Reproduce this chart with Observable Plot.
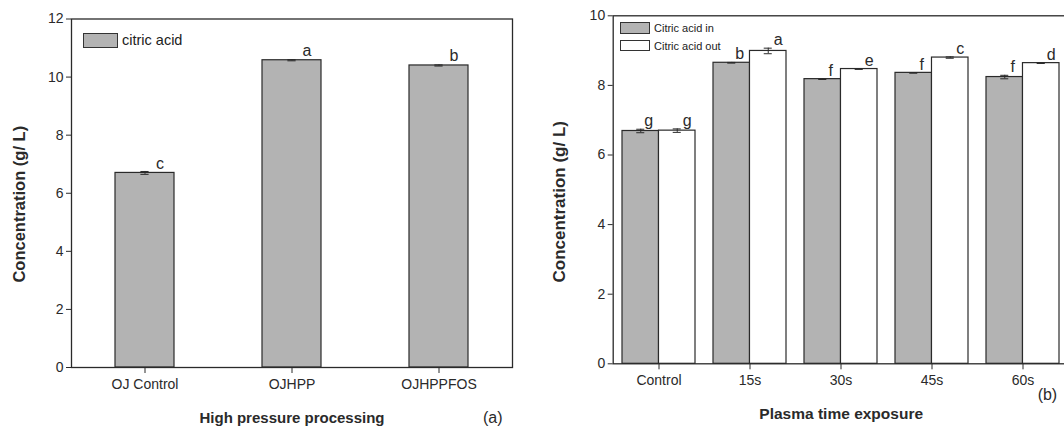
<!DOCTYPE html>
<html><head><meta charset="utf-8">
<script src="https://cdn.jsdelivr.net/npm/d3@7"></script>
<script src="https://cdn.jsdelivr.net/npm/@observablehq/plot@0.6"></script>
<style>
html,body{margin:0;padding:0;background:#fff;overflow:hidden;width:1064px;height:427px;}
#wrap{position:relative;width:1064px;height:427px;font-family:"Liberation Sans",Arial,sans-serif;}
.panel{position:absolute;top:0;}
.leg{position:absolute;display:flex;align-items:center;color:#222;}
.sw{border:1.3px solid #333;box-sizing:border-box;}
</style></head>
<body><div id="wrap"></div>
<script>
// Panel (a)
const catsA = ["OJ Control", "OJHPP", "OJHPPFOS"];
const valsA = [6.70, 10.58, 10.40];
const errA = [0.05, 0.02, 0.02];
const letA = ["c", "a", "b"];
const ticksA = [0, 2, 4, 6, 8, 10, 12];

// Panel (b)
const catsB = ["Control", "15s", "30s", "45s", "60s"];
const inB = [6.69, 8.65, 8.18, 8.36, 8.24];
const inErrB = [0.05, 0.01, 0.01, 0.01, 0.05];
const inLetB = ["g", "b", "f", "f", "f"];
const outB = [6.70, 8.99, 8.47, 8.80, 8.64];
const outErrB = [0.05, 0.08, 0.01, 0.02, 0.01];
const outLetB = ["g", "a", "e", "c", "d"];
const ticksB = [0, 2, 4, 6, 8, 10];

const FONT = "Liberation Sans, Arial, sans-serif";
const GRAY = "#b3b3b3", INK = "#2a2a2a";
const wrap = document.getElementById("wrap");

// ---- Panel A
const dataA = catsA.map((c, i) => ({c, v: valsA[i], e: errA[i], l: letA[i]}));
const WA = 540, mLA = 71, mRA = 28;
const stepA = (WA - mLA - mRA) / 3, bwA = stepA * 0.4;
const plotA = Plot.plot({
  width: WA, height: 427,
  marginLeft: mLA, marginRight: mRA, marginTop: 18.5, marginBottom: 60,
  style: {fontFamily: FONT, fontSize: "14px", color: INK, background: "transparent"},
  x: {domain: catsA, paddingInner: 0.6, paddingOuter: 0.3, label: null, tickSize: 6, tickPadding: 6},
  y: {domain: [0, 12], ticks: ticksA, label: null, tickSize: 5, tickPadding: 3},
  marks: [
    Plot.barY(dataA, {x: "c", y: "v", fill: GRAY, stroke: INK, strokeWidth: 1.2}),
    Plot.ruleX(dataA, {x: "c", y1: d => d.v - d.e, y2: d => d.v + d.e, stroke: INK, strokeWidth: 1}),
    Plot.tickY(dataA, {x: "c", y: d => d.v - d.e, stroke: INK, insetLeft: bwA/2 - 4, insetRight: bwA/2 - 4}),
    Plot.tickY(dataA, {x: "c", y: d => d.v + d.e, stroke: INK, insetLeft: bwA/2 - 4, insetRight: bwA/2 - 4}),
    Plot.text(dataA, {x: "c", y: "v", text: "l", dx: 15, dy: -4, lineAnchor: "bottom", fontSize: 16, fill: INK}),
    Plot.frame({stroke: INK, strokeWidth: 1.3}),
    Plot.text(["Concentration (g/ L)"], {frameAnchor: "left", textAnchor: "middle", dx: -52, dy: 11, rotate: -90, fontSize: 16.5, fontWeight: "bold", fill: INK}),
    Plot.text(["High pressure processing"], {frameAnchor: "bottom", dy: 55, fontSize: 15, fontWeight: "bold", fill: INK}),
    Plot.text(["(a)"], {frameAnchor: "bottom-right", textAnchor: "end", dy: 55, dx: -10, fontSize: 16, fill: INK})
  ]
});
plotA.classList.add("panel");
plotA.style.left = "0px";
wrap.appendChild(plotA);

// ---- Panel B
const dIn = catsB.map((c, i) => ({c, v: inB[i], e: inErrB[i], l: inLetB[i]}));
const dOut = catsB.map((c, i) => ({c, v: outB[i], e: outErrB[i], l: outLetB[i]}));
const WB = 540, mLB = 72.7, mRB = 11.3;
const stepB = (WB - mLB - mRB) / 5, bwB = stepB * 0.8, hb = bwB / 2;
const capB = 4;
function errMarks(d, off) {
  const center = off < 0 ? hb / 2 : hb + hb / 2;   // from band start
  const iL = center - capB, iR = bwB - center - capB;
  return [
    Plot.ruleX(d, {x: "c", y1: r => r.v - r.e, y2: r => r.v + r.e, dx: off * hb / 2, stroke: INK, strokeWidth: 1}),
    Plot.tickY(d, {x: "c", y: r => r.v - r.e, stroke: INK, insetLeft: iL, insetRight: iR}),
    Plot.tickY(d, {x: "c", y: r => r.v + r.e, stroke: INK, insetLeft: iL, insetRight: iR})
  ];
}
const plotB = Plot.plot({
  width: WB, height: 427,
  marginLeft: mLB, marginRight: mRB, marginTop: 15.3, marginBottom: 63.7,
  style: {fontFamily: FONT, fontSize: "14px", color: INK, background: "transparent"},
  x: {domain: catsB, paddingInner: 0.2, paddingOuter: 0.1, label: null, tickSize: 6, tickPadding: 5},
  y: {domain: [0, 10], ticks: ticksB, label: null, tickSize: 5, tickPadding: 3},
  marks: [
    Plot.barY(dIn, {x: "c", y: "v", fill: GRAY, stroke: INK, strokeWidth: 1.2, insetRight: hb}),
    Plot.barY(dOut, {x: "c", y: "v", fill: "#fff", stroke: INK, strokeWidth: 1.2, insetLeft: hb}),
    ...errMarks(dIn, -1),
    ...errMarks(dOut, 1),
    Plot.text(dIn, {x: "c", y: r => r.v + r.e, text: "l", dx: -hb / 2 + 8, dy: -3, lineAnchor: "bottom", fontSize: 16, fill: INK}),
    Plot.text(dOut, {x: "c", y: r => r.v + r.e, text: "l", dx: hb / 2 + 10, dy: -3, lineAnchor: "bottom", fontSize: 16, fill: INK}),
    Plot.frame({stroke: INK, strokeWidth: 1.3}),
    Plot.text(["Concentration (g/ L)"], {frameAnchor: "left", textAnchor: "middle", dx: -54, dy: 12, rotate: -90, fontSize: 17, fontWeight: "bold", fill: INK}),
    Plot.text(["Plasma time exposure"], {frameAnchor: "bottom", dy: 55, fontSize: 15.5, fontWeight: "bold", fill: INK}),
    Plot.text(["(b)"], {frameAnchor: "bottom-right", textAnchor: "end", dy: 36, dx: -12, fontSize: 16, fill: INK})
  ]
});
plotB.classList.add("panel");
plotB.style.left = "540px";
wrap.appendChild(plotB);

// ---- Legends
function legend(x, y, w, h, fill, label, fs) {
  const el = document.createElement("div");
  el.className = "leg";
  el.style.left = x + "px"; el.style.top = y + "px"; el.style.fontSize = fs + "px";
  const sw = document.createElement("div");
  sw.className = "sw"; sw.style.width = w + "px"; sw.style.height = h + "px"; sw.style.background = fill;
  sw.style.marginRight = "4px";
  const t = document.createElement("span"); t.textContent = label;
  el.appendChild(sw); el.appendChild(t);
  wrap.appendChild(el);
}
legend(83, 32, 35, 15, GRAY, "citric acid", 14.5);
legend(620, 22, 30, 11.5, GRAY, "Citric acid in", 11);
legend(620, 39.5, 30, 11.5, "#fff", "Citric acid out", 11);
</script>
</body></html>
